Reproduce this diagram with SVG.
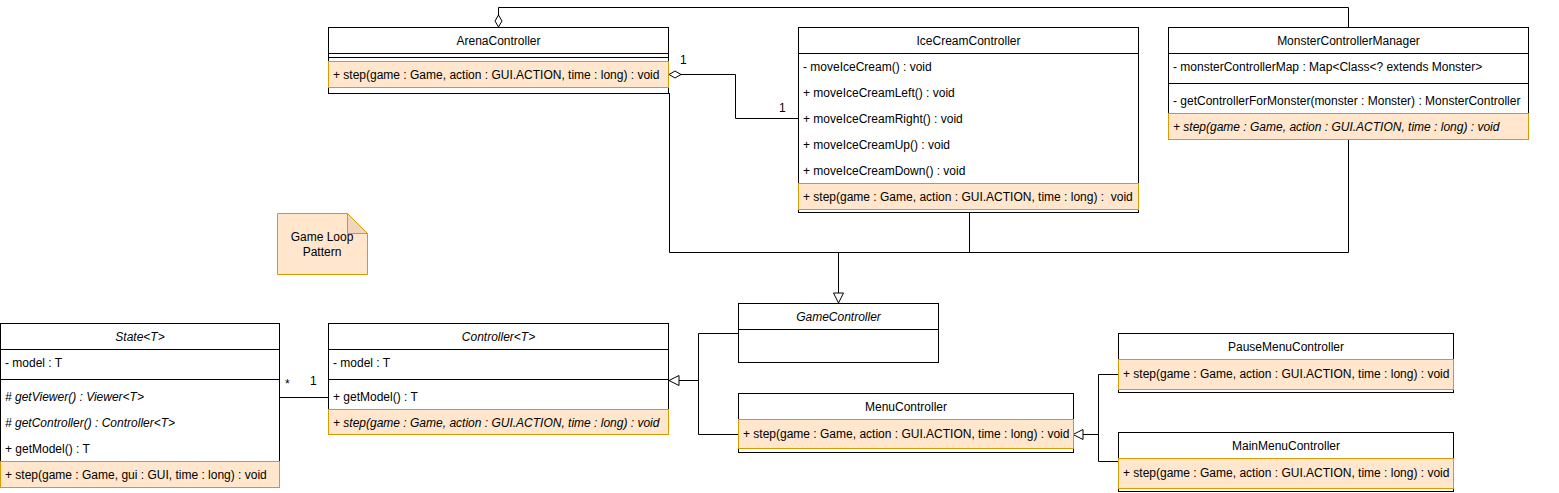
<svg xmlns="http://www.w3.org/2000/svg" width="1559" height="493" viewBox="0 0 1559 493">
<style>
text{font-family:"Liberation Sans",Arial,sans-serif;font-size:12px;fill:#000;white-space:pre}
.c{text-anchor:middle}
.i{font-style:italic}
.box{fill:#fff;stroke:#000;stroke-width:1}
.hl{fill:#ffe6cc;stroke:#d79b00;stroke-width:1}
.ln{stroke:#000;stroke-width:1;fill:none}
</style>
<defs>
<marker id="tri" viewBox="0 0 12 12" refX="11" refY="6" markerWidth="12" markerHeight="12" markerUnits="userSpaceOnUse" orient="auto">
<path d="M1,1 L11,6 L1,11 Z" fill="#fff" stroke="#000"/>
</marker>
<marker id="dia" viewBox="0 0 14 10" refX="1" refY="5" markerWidth="14" markerHeight="10" markerUnits="userSpaceOnUse" orient="auto">
<path d="M1,5 L7,1.5 L13,5 L7,8.5 Z" fill="#fff" stroke="#000"/>
</marker>
</defs>
<g id="connectors">
<path class="ln" d="M498.5,27 L498.5,7.5 L1348.5,7.5 L1348.5,27" marker-start="url(#dia)"/>
<path class="ln" d="M669,74.5 L735.5,74.5 L735.5,118.5 L798,118.5" marker-start="url(#dia)"/>
<text x="680" y="64">1</text>
<text x="779" y="112">1</text>
<text x="1512" y="81">1</text>
<path class="ln" d="M669.5,93 L669.5,252.5 L1348.5,252.5 L1348.5,139"/>
<path class="ln" d="M969.5,213 L969.5,252.5"/>
<path class="ln" d="M838.5,252.5 L838.5,303" marker-end="url(#tri)"/>
<path class="ln" d="M279,397.5 L328,397.5"/>
<text x="285" y="388">*</text>
<text x="310" y="385">1</text>
<path class="ln" d="M738,333.5 L698.5,333.5 L698.5,434.5 L738,434.5"/>
<path class="ln" d="M698.5,380.5 L669,380.5" marker-end="url(#tri)"/>
<path class="ln" d="M1118,374.5 L1098.5,374.5 L1098.5,461.5 L1118,461.5"/>
<path class="ln" d="M1098.5,434.5 L1073,434.5" marker-end="url(#tri)"/>
</g>
<g id="ArenaController">
<rect class="box" x="328.5" y="27.5" width="340" height="66"/>
<line class="ln" x1="328.5" y1="53.5" x2="668.5" y2="53.5"/>
<line class="ln" x1="328.5" y1="57.5" x2="668.5" y2="57.5"/>
<rect class="hl" x="328.5" y="61.5" width="340" height="26"/>
<text class="c" x="498.5" y="45">ArenaController</text>
<text x="333" y="79">+ step(game : Game, action : GUI.ACTION, time : long) : void</text>
</g>
<g id="IceCreamController">
<rect class="box" x="798.5" y="27.5" width="340" height="185"/>
<line class="ln" x1="798.5" y1="53.5" x2="1138.5" y2="53.5"/>
<rect class="hl" x="798.5" y="183.5" width="340" height="26"/>
<text class="c" x="968.5" y="45">IceCreamController</text>
<text x="803" y="71">- moveIceCream() : void</text>
<text x="803" y="97">+ moveIceCreamLeft() : void</text>
<text x="803" y="123">+ moveIceCreamRight() : void</text>
<text x="803" y="149">+ moveIceCreamUp() : void</text>
<text x="803" y="175">+ moveIceCreamDown() : void</text>
<text x="803" y="201">+ step(game : Game, action : GUI.ACTION, time : long) :  void</text>
</g>
<g id="MonsterControllerManager">
<rect class="box" x="1168.5" y="27.5" width="360" height="112"/>
<line class="ln" x1="1168.5" y1="53.5" x2="1528.5" y2="53.5"/>
<line class="ln" x1="1168.5" y1="83.5" x2="1528.5" y2="83.5"/>
<rect class="hl" x="1168.5" y="113.5" width="360" height="26"/>
<text class="c" x="1348.5" y="45">MonsterControllerManager</text>
<text x="1173" y="71">- monsterControllerMap : Map&lt;Class&lt;? extends Monster&gt;</text>
<text x="1173" y="105">- getControllerForMonster(monster : Monster) : MonsterController</text>
<text class="i" x="1173" y="131">+ step(game : Game, action : GUI.ACTION, time : long) : void</text>
</g>
<g id="GameLoopNote">
<path d="M277.5,213.5 L347.5,213.5 L367.5,233.5 L367.5,274.5 L277.5,274.5 Z" fill="#ffe6cc" stroke="#d79b00"/>
<path d="M347.5,213.5 L347.5,233.5 L367.5,233.5 Z" fill="#f2d5bd" stroke="#d79b00"/>
<text class="c" x="322" y="241">Game Loop</text>
<text class="c" x="322" y="256">Pattern</text>
</g>
<g id="GameController">
<rect class="box" x="738.5" y="303.5" width="200" height="59"/>
<line class="ln" x1="738.5" y1="329.5" x2="938.5" y2="329.5"/>
<text class="c i" x="838.5" y="321">GameController</text>
</g>
<g id="State">
<rect class="box" x="0.5" y="323.5" width="279" height="164"/>
<line class="ln" x1="0.5" y1="349.5" x2="279.5" y2="349.5"/>
<line class="ln" x1="0.5" y1="379.5" x2="279.5" y2="379.5"/>
<rect class="hl" x="0.5" y="461.5" width="279" height="26"/>
<text class="c i" x="140" y="341">State&lt;T&gt;</text>
<text x="5" y="367">- model : T</text>
<text class="i" x="5" y="401"># getViewer() : Viewer&lt;T&gt;</text>
<text class="i" x="5" y="427"># getController() : Controller&lt;T&gt;</text>
<text x="5" y="453">+ getModel() : T</text>
<text x="5" y="479">+ step(game : Game, gui : GUI, time : long) : void</text>
</g>
<g id="Controller">
<rect class="box" x="328.5" y="323.5" width="340" height="111"/>
<line class="ln" x1="328.5" y1="349.5" x2="668.5" y2="349.5"/>
<line class="ln" x1="328.5" y1="379.5" x2="668.5" y2="379.5"/>
<rect class="hl" x="328.5" y="409.5" width="340" height="25"/>
<text class="c i" x="498.5" y="341">Controller&lt;T&gt;</text>
<text x="333" y="367">- model : T</text>
<text x="333" y="401">+ getModel() : T</text>
<text class="i" x="333" y="427">+ step(game : Game, action : GUI.ACTION, time : long) : void</text>
</g>
<g id="MenuController">
<rect class="box" x="738.5" y="393.5" width="335" height="59"/>
<rect class="hl" x="738.5" y="419.5" width="335" height="29"/>
<text class="c" x="906" y="411">MenuController</text>
<text x="743" y="438">+ step(game : Game, action : GUI.ACTION, time : long) : void</text>
</g>
<g id="PauseMenuController">
<rect class="box" x="1118.5" y="333.5" width="335" height="59"/>
<rect class="hl" x="1118.5" y="359.5" width="335" height="30"/>
<text class="c" x="1286" y="351">PauseMenuController</text>
<text x="1123" y="378">+ step(game : Game, action : GUI.ACTION, time : long) : void</text>
</g>
<g id="MainMenuController">
<rect class="box" x="1118.5" y="432.5" width="335" height="59"/>
<rect class="hl" x="1118.5" y="458.5" width="335" height="30"/>
<text class="c" x="1286" y="450">MainMenuController</text>
<text x="1123" y="477">+ step(game : Game, action : GUI.ACTION, time : long) : void</text>
</g>
</svg>
